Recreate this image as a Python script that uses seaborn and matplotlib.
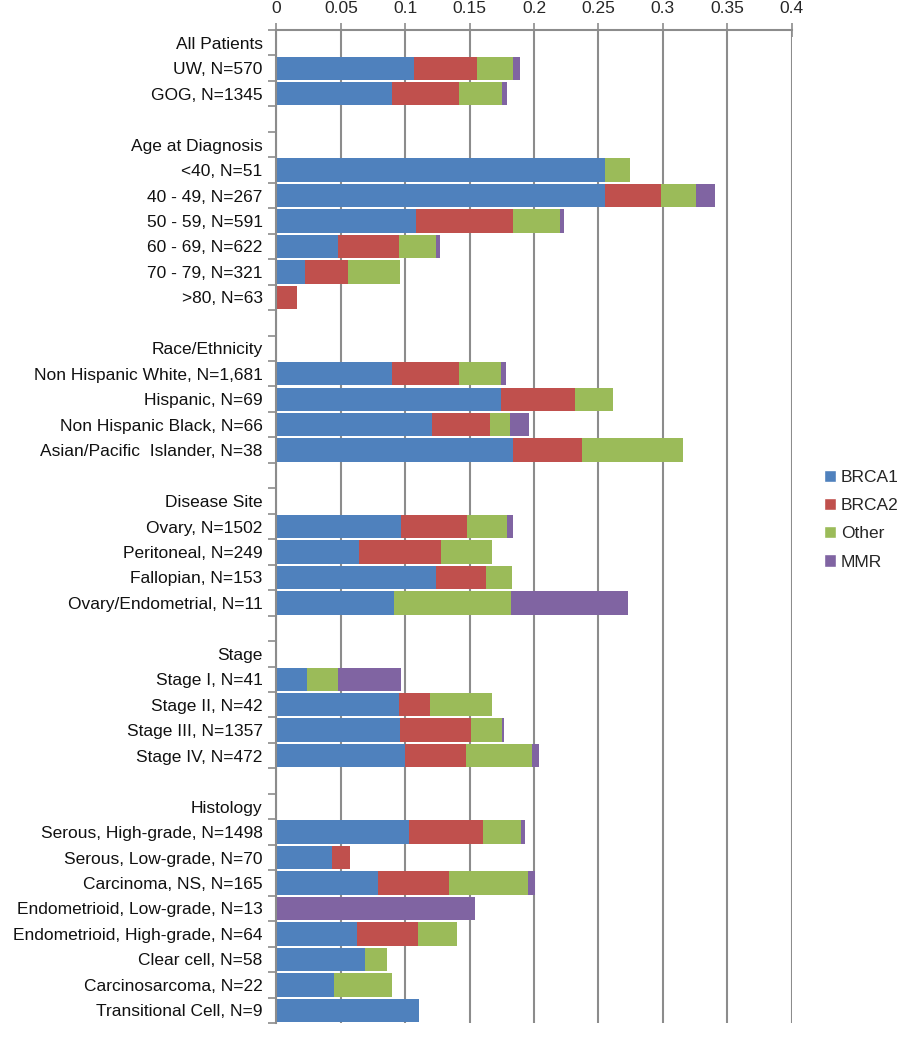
import numpy as np
import pandas as pd
import matplotlib.pyplot as plt
import seaborn as sns
from matplotlib.patches import Patch

# row labels, top to bottom ("" = spacer row)
labels = [
    "All Patients", "UW, N=570", "GOG, N=1345", "",
    "Age at Diagnosis", "<40, N=51", "40 - 49, N=267", "50 - 59, N=591",
    "60 - 69, N=622", "70 - 79, N=321", ">80, N=63", "",
    "Race/Ethnicity", "Non Hispanic White, N=1,681", "Hispanic, N=69",
    "Non Hispanic Black, N=66", "Asian/Pacific  Islander, N=38", "",
    "Disease Site", "Ovary, N=1502", "Peritoneal, N=249", "Fallopian, N=153",
    "Ovary/Endometrial, N=11", "",
    "Stage", "Stage I, N=41", "Stage II, N=42", "Stage III, N=1357",
    "Stage IV, N=472", "",
    "Histology", "Serous, High-grade, N=1498", "Serous, Low-grade, N=70",
    "Carcinoma, NS, N=165", "Endometrioid, Low-grade, N=13",
    "Endometrioid, High-grade, N=64", "Clear cell, N=58",
    "Carcinosarcoma, N=22", "Transitional Cell, N=9",
]

brca1 = [0, 0.107, 0.090, 0,
         0, 0.255, 0.255, 0.108, 0.048, 0.022, 0, 0,
         0, 0.090, 0.174, 0.121, 0.184, 0,
         0, 0.097, 0.064, 0.124, 0.091, 0,
         0, 0.024, 0.095, 0.096, 0.100, 0,
         0, 0.103, 0.043, 0.079, 0, 0.0625, 0.069, 0.045, 0.111]
brca2 = [0, 0.049, 0.052, 0,
         0, 0, 0.0435, 0.076, 0.047, 0.0336, 0.0159, 0,
         0, 0.052, 0.058, 0.045, 0.053, 0,
         0, 0.051, 0.0635, 0.039, 0, 0,
         0, 0, 0.024, 0.055, 0.047, 0,
         0, 0.057, 0.014, 0.055, 0, 0.047, 0, 0, 0]
other = [0, 0.028, 0.033, 0,
         0, 0.0196, 0.027, 0.036, 0.029, 0.040, 0, 0,
         0, 0.032, 0.029, 0.015, 0.079, 0,
         0, 0.031, 0.040, 0.020, 0.091, 0,
         0, 0.024, 0.048, 0.024, 0.051, 0,
         0, 0.030, 0, 0.061, 0, 0.031, 0.017, 0.045, 0]
mmr = [0, 0.005, 0.004, 0,
       0, 0, 0.015, 0.003, 0.003, 0, 0, 0,
       0, 0.004, 0, 0.015, 0, 0,
       0, 0.005, 0, 0, 0.091, 0,
       0, 0.049, 0, 0.002, 0.006, 0,
       0, 0.003, 0, 0.006, 0.154, 0, 0, 0, 0]

series = ["BRCA1", "BRCA2", "Other", "MMR"]
colors = ["#4F81BD", "#C0504D", "#9BBB59", "#8064A2"]

df = pd.DataFrame({"row": range(len(labels)), "BRCA1": brca1, "BRCA2": brca2,
                   "Other": other, "MMR": mmr})
cum = df[series].cumsum(axis=1)

sns.set_style("white")
plt.rcParams["font.family"] = ["Liberation Sans", "DejaVu Sans"]

fig = plt.figure(figsize=(9.03, 10.5), dpi=100)
ax = fig.add_axes([0.3062, 0.0257, 0.5705, 0.9457])

# stacked bars: draw cumulative totals from the outermost segment inward
for name, col in reversed(list(zip(series, colors))):
    sns.barplot(x=cum[name], y=df["row"], orient="y", color=col,
                width=0.92, linewidth=0, saturation=1, ax=ax)

ax.set_xlim(0, 0.4)
ax.set_ylim(len(labels) - 0.5, -0.5)
ax.set_xticks(np.arange(0, 0.401, 0.05))
ax.set_xticklabels(["0", "0.05", "0.1", "0.15", "0.2", "0.25", "0.3", "0.35", "0.4"])
ax.xaxis.tick_top()
ax.xaxis.set_label_position("top")
ax.set_xlabel("")
ax.set_ylabel("")

ax.set_yticks(range(len(labels)))
ax.set_yticklabels(labels)
ax.set_yticks(np.arange(-0.5, len(labels), 1), minor=True)
ax.tick_params(axis="y", which="major", length=0, pad=10, labelsize=12.5, labelcolor="#111111")
ax.tick_params(axis="y", which="minor", length=6, width=1.2, color="#8c8c8c", left=True)
ax.tick_params(axis="x", length=10, width=1.2, direction="inout", color="#8c8c8c",
               labelsize=12.5, pad=5, top=True, bottom=False)

ax.grid(axis="x", color="#8c8c8c", linewidth=1.5)
ax.set_axisbelow(True)
for s in ["right", "bottom"]:
    ax.spines[s].set_visible(False)
for s in ["left", "top"]:
    ax.spines[s].set_color("#8c8c8c")
    ax.spines[s].set_linewidth(1.5)

handles = [Patch(facecolor=c, label=s) for s, c in zip(series, colors)]
fig.legend(handles=handles, loc="center left", bbox_to_anchor=(0.912, 0.505),
           frameon=False, fontsize=12.5, handlelength=0.7, handleheight=0.7,
           handletextpad=0.3, labelspacing=0.75, borderpad=0, borderaxespad=0)

fig.savefig("out.png", dpi=100)
